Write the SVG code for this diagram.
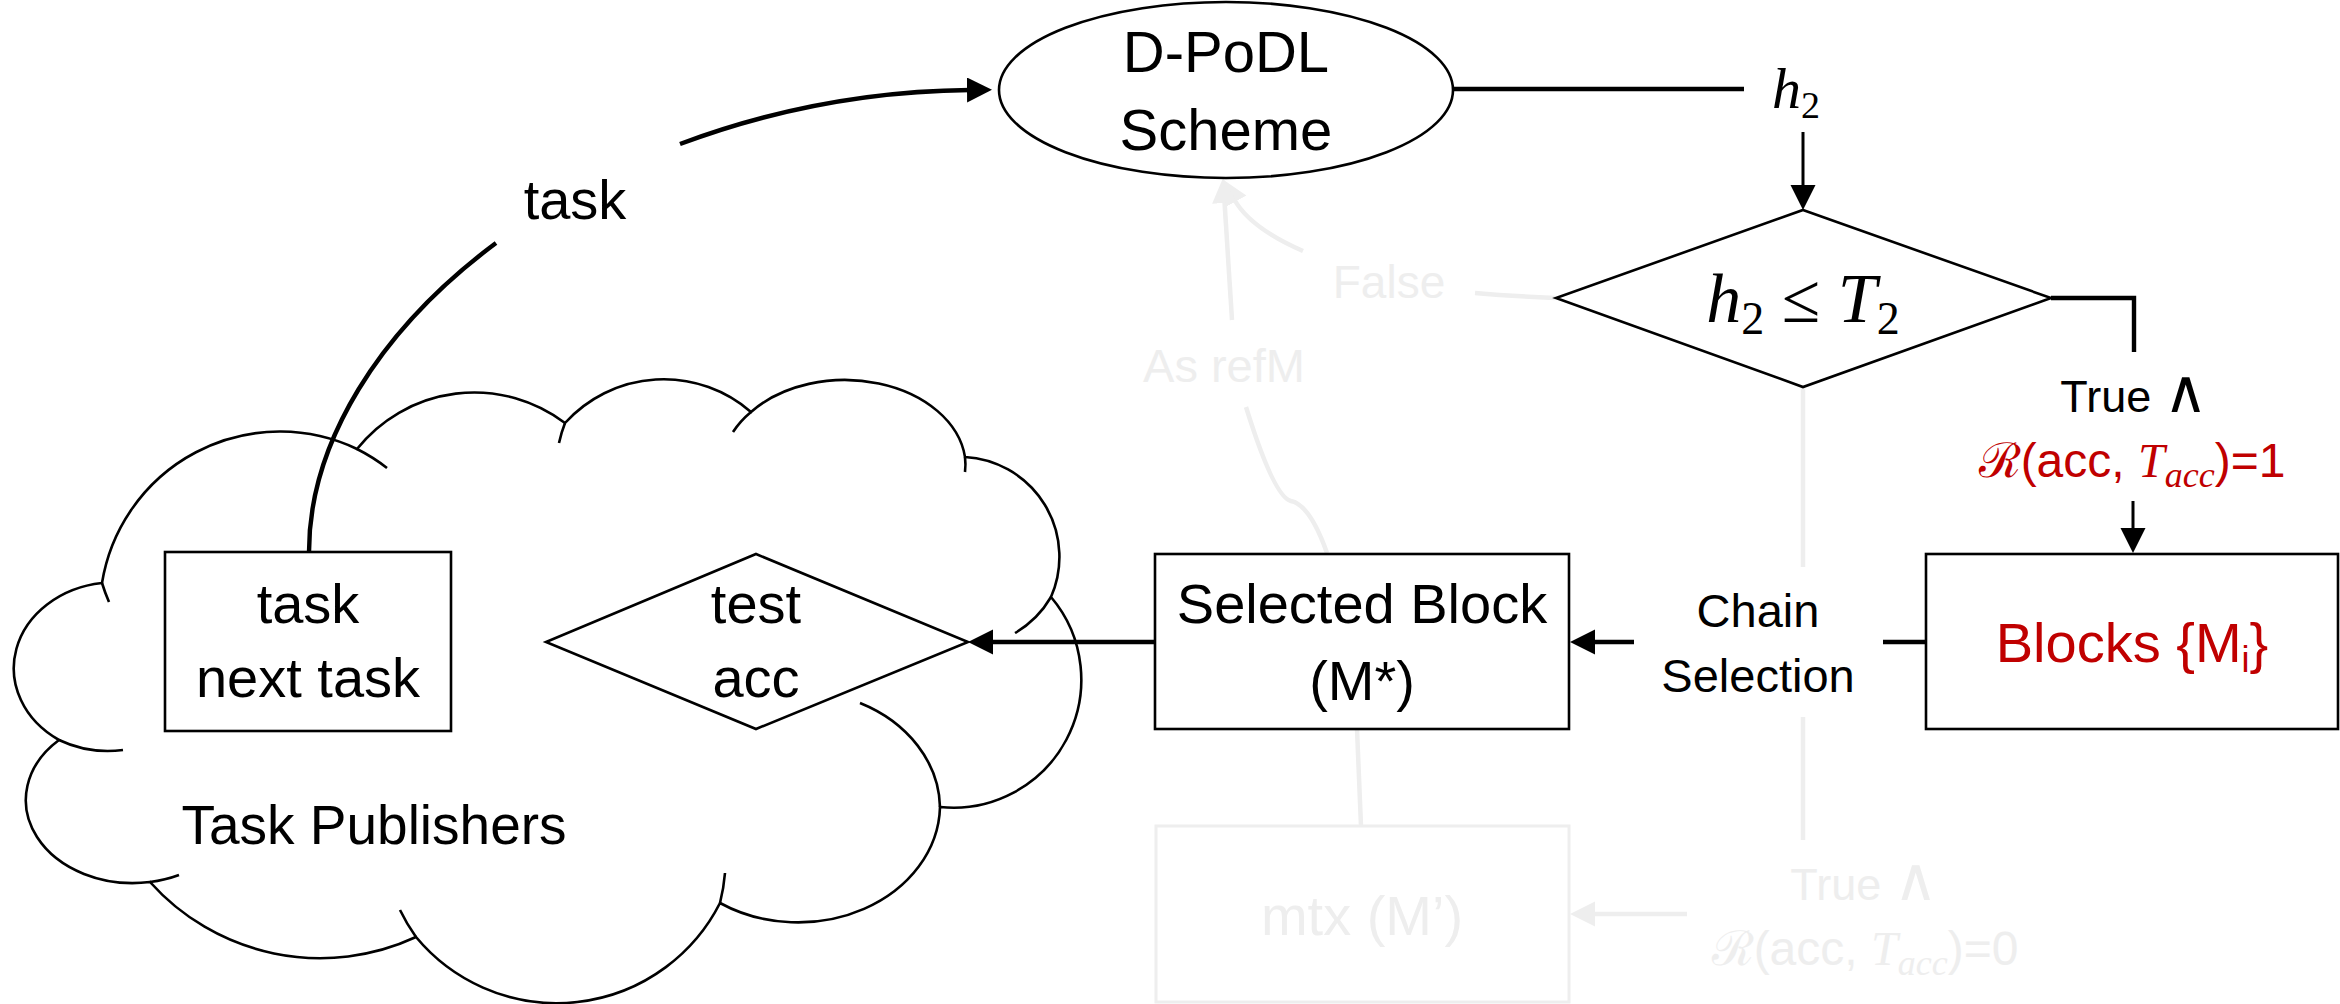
<svg xmlns="http://www.w3.org/2000/svg" width="2340" height="1004" viewBox="0 0 2340 1004">
<defs>
<style>
text{font-family:"Liberation Sans","DejaVu Sans",sans-serif;fill:#000;text-anchor:middle}
.lbl{font-size:56px}
.mid{font-size:47px}
.math{font-family:"Liberation Serif","DejaVu Serif",serif}
.it{font-style:italic}
.red{fill:#c00000}
.fadet{fill:#eeeeee}
.node{fill:#fff;stroke:#000;stroke-width:2.6}
.fnode{fill:#fff;stroke:#eeeeee;stroke-width:3}
.thick{fill:none;stroke:#000;stroke-width:4.4}
.thin{fill:none;stroke:#000;stroke-width:3}
.faded{fill:none;stroke:#eeeeee;stroke-width:4.5}
.tail{fill:none;stroke:#000;stroke-width:2.6}
.scr{font-family:"DejaVu Serif","Liberation Serif",serif}
.and{font-family:"DejaVu Sans",sans-serif;font-size:60px}
</style>
<marker id="ah" markerUnits="userSpaceOnUse" markerWidth="26" markerHeight="26" refX="3" refY="12.5" orient="auto"><path d="M0,0 L25,12.5 L0,25 z" fill="#000"/></marker>
<marker id="ahf" markerUnits="userSpaceOnUse" markerWidth="26" markerHeight="26" refX="3" refY="12.5" orient="auto"><path d="M0,0 L25,12.5 L0,25 z" fill="#eeeeee"/></marker>
</defs>
<rect x="0" y="0" width="2340" height="1004" fill="#fff"/>

<g id="task-publishers">
<path class="node" d="M102,583 A180,180 0 0 1 357,449 A150,150 0 0 1 565,423 A133,133 0 0 1 751,412 A121,87 0 0 1 965,457 A100,100 0 0 1 1051,597 A128,128 0 0 1 940,807 A142,118 0 0 1 720,903 A183,183 0 0 1 416,937 A228,228 0 0 1 150,882 A107,83 0 0 1 59,740 A101,86 0 0 1 102,583 Z"/>
<path class="tail" d="M102,583 A180,180 0 0 0 109,602"/>
<path class="tail" d="M357,449 A180,180 0 0 1 387,468"/>
<path class="tail" d="M559,443 A133,133 0 0 1 565,423"/>
<path class="tail" d="M733,432 A121,87 0 0 1 751,412"/>
<path class="tail" d="M965,457 A121,87 0 0 1 965,472"/>
<path class="tail" d="M1051,597 A100,100 0 0 1 1015,633"/>
<path class="tail" d="M860,703 A142,118 0 0 1 940,807"/>
<path class="tail" d="M725,873 A183,183 0 0 1 720,903"/>
<path class="tail" d="M416,937 A183,183 0 0 1 400,910"/>
<path class="tail" d="M150,882 A107,83 0 0 0 179,875"/>
<path class="tail" d="M123,750 A101,86 0 0 1 59,740"/>
<text class="lbl" x="374" y="844" style="font-size:55px">Task Publishers</text>
</g>

<g id="connectors">
<path class="faded" d="M1555,298 Q1510,296 1475,293"/>
<path class="faded" d="M1303,251 Q1250,228 1234,199" marker-end="url(#ahf)"/>
<path class="faded" d="M1232,320 L1224.4,200" marker-end="url(#ahf)"/>
<path class="faded" d="M1327,553 Q1310,505 1291,501 Q1274,497 1246,407"/>
<path class="faded" d="M1361,826 L1357,729"/>
<path class="faded" d="M1803,388 L1803,567 M1803,717 L1803,840"/>
<path class="faded" d="M1687,914 L1592,914" marker-end="url(#ahf)"/>
<path class="thick" d="M309,552 C309,443 379,330 496,243"/>
<path class="thick" d="M680,144 C771,110 866,91 970,90" marker-end="url(#ah)"/>
<path class="thick" d="M1453,89 L1744,89"/>
<path class="thin" d="M1803,132 L1803,188" marker-end="url(#ah)"/>
<path class="thick" d="M2051,298 L2134,298 L2134,352"/>
<path class="thin" d="M2133,501 L2133,531" marker-end="url(#ah)"/>
<path class="thick" d="M1883,642 L1926,642"/>
<path class="thick" d="M1634,642 L1592,642" marker-end="url(#ah)"/>
<path class="thick" d="M1155,642 L990,642" marker-end="url(#ah)"/>
<text class="lbl" x="575" y="219">task</text>
<text class="math" x="1796" y="108" style="font-size:58px"><tspan class="it">h</tspan><tspan dy="10" style="font-size:38px">2</tspan></text>
<text class="mid" x="2134" y="412" style="font-size:45px">True <tspan class="and">∧</tspan></text>
<text class="red" x="2132" y="477" style="font-size:48px"><tspan class="scr">ℛ</tspan>(acc, <tspan class="math it">T</tspan><tspan class="math it" dy="10" style="font-size:36px">acc</tspan><tspan dy="-10">)=1</tspan></text>
<text class="mid" x="1758" y="627">Chain</text>
<text class="mid" x="1758" y="692">Selection</text>
<text class="fadet" x="1389" y="298" style="font-size:46px">False</text>
<text class="fadet" x="1224" y="382" style="font-size:47px">As refM</text>
<text class="fadet" x="1864" y="900" style="font-size:45px">True <tspan class="and">∧</tspan></text>
<text class="fadet" x="1865" y="965" style="font-size:48px"><tspan class="scr">ℛ</tspan>(acc, <tspan class="math it">T</tspan><tspan class="math it" dy="10" style="font-size:36px">acc</tspan><tspan dy="-10">)=0</tspan></text>
</g>

<g id="dpodl-scheme">
<ellipse class="node" cx="1226" cy="90" rx="227" ry="88"/>
<text class="lbl" x="1226" y="72" style="font-size:58px">D-PoDL</text>
<text class="lbl" x="1226" y="150" style="font-size:58px">Scheme</text>
</g>

<g id="h2-decision">
<polygon class="node" points="1803,210 2051,298 1803,387 1556,298"/>
<text class="math" x="1803" y="322" style="font-size:70px"><tspan class="it">h</tspan><tspan dy="12" style="font-size:46px">2</tspan><tspan dy="-12"> ≤ </tspan><tspan class="it">T</tspan><tspan dy="12" style="font-size:46px">2</tspan></text>
</g>

<g id="blocks">
<rect class="node" x="1926" y="554" width="412" height="175"/>
<text class="lbl red" x="2132" y="662">Blocks {M<tspan dy="10" style="font-size:36px">i</tspan><tspan dy="-10">}</tspan></text>
</g>

<g id="selected-block">
<rect class="node" x="1155" y="554" width="414" height="175"/>
<text class="lbl" x="1362" y="623">Selected Block</text>
<text class="lbl" x="1362" y="700">(M*)</text>
</g>

<g id="mtx">
<rect class="fnode" x="1156" y="826" width="413" height="176"/>
<text class="lbl fadet" x="1362" y="935">mtx (M’)</text>
</g>

<g id="test-acc">
<polygon class="node" points="756,554 968,642 756,729 546,642"/>
<text class="lbl" x="756" y="623">test</text>
<text class="lbl" x="756" y="697">acc</text>
</g>

<g id="task-box">
<rect class="node" x="165" y="552" width="286" height="179"/>
<text class="lbl" x="308" y="623">task</text>
<text class="lbl" x="308" y="697">next task</text>
</g>
</svg>
